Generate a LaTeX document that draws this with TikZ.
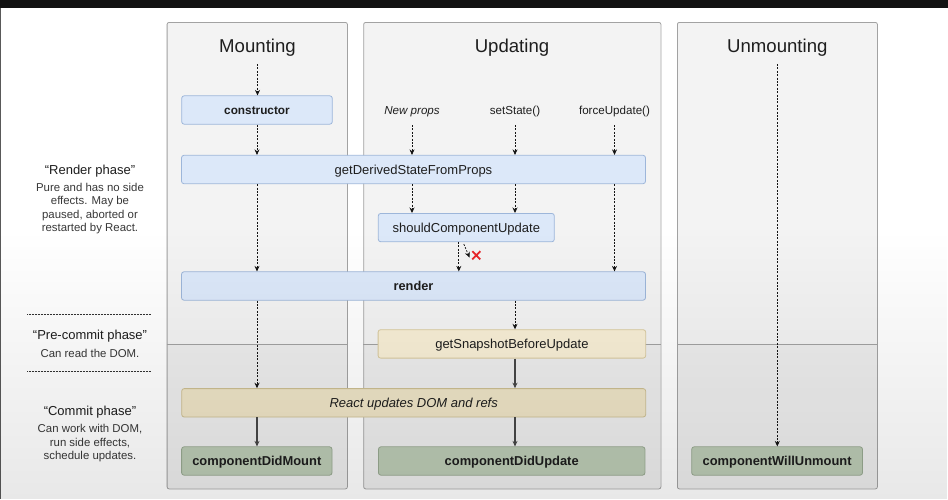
\documentclass[tikz,border=0pt]{standalone}
\usepackage{fontspec}
\setmainfont{Liberation Sans}
\usetikzlibrary{arrows.meta,fadings}

\definecolor{panelfill}{HTML}{F3F3F3}
\definecolor{panellow}{HTML}{EDEDED}
\definecolor{panelline}{HTML}{A2A2A2}
\definecolor{bluefill}{HTML}{DCE8F9}
\definecolor{blueline}{HTML}{9DB6DA}
\definecolor{beigefill}{HTML}{F8EFD6}
\definecolor{beigeline}{HTML}{D9CA9E}
\definecolor{tanfill}{HTML}{EEE4C6}
\definecolor{tanline}{HTML}{CDBF92}
\definecolor{greenfill}{HTML}{BCCBB5}
\definecolor{greenline}{HTML}{98A991}
\definecolor{txt}{HTML}{1E1E1E}
\definecolor{xred}{HTML}{E8262A}

\newcommand{\lcpanel}[3]{%
  \fill[panelfill,rounded corners=2pt] (#1,22) rectangle (#2,488.5);
  \begin{scope}
    \clip[rounded corners=2pt] (#1,22) rectangle (#2,488.5);
    \fill[panellow] (#1,344.3) rectangle (#2,488.5);
  \end{scope}
  \draw[panelline,line width=0.6pt] (#1,344.3) -- (#2,344.3);
  \node[draw=panelline,line width=0.8pt,rounded corners=2pt,inner sep=0pt,
        minimum width=#2pt-#1pt,minimum height=466.5pt,anchor=north west] (#3) at (#1,22) {};
}

\begin{document}
\begin{tikzpicture}[x=1pt,y=-1pt,
  box/.style={draw, rounded corners=2.5pt, line width=0.8pt, inner sep=0pt,
    minimum height=28.4pt, text=txt, text height=9.2pt, text depth=0pt,
    font=\fontsize{13}{15}\selectfont},
  bluebox/.style={box, fill=bluefill, draw=blueline},
  beigebox/.style={box, fill=beigefill, draw=beigeline},
  tanbox/.style={box, fill=tanfill, draw=tanline},
  greenbox/.style={box, fill=greenfill, draw=greenline, font=\fontsize{12.9}{15}\selectfont\bfseries},
  title/.style={text=txt, inner sep=0pt, anchor=base, font=\fontsize{18.6}{22}\selectfont},
  trig/.style={text=txt, inner sep=0pt, anchor=base, font=\fontsize{11.6}{14}\selectfont},
  phase/.style={text=txt, inner sep=0pt, anchor=base, font=\fontsize{13}{15}\selectfont},
  phasedesc/.style={text=black!78, inner sep=0pt, anchor=base, font=\fontsize{11.4}{13.4}\selectfont},
  darr/.style={-{Stealth[length=5.5pt,width=5pt]}, line width=0.7pt, dash pattern=on 2pt off 1.4pt, black!92},
  sarr/.style={-{Stealth[length=5.5pt,width=5pt]}, line width=1.1pt, black!72},
  sep/.style={line width=0.9pt, dash pattern=on 0.8pt off 0.7pt, black!80}
]
\useasboundingbox (0,0) rectangle (948,499);
\fill[white] (0,0) rectangle (948,499);
\fill[black!93] (0,0) rectangle (948,8);
\draw[black!65,line width=1pt] (0.5,8) -- (0.5,499);

% panels
\lcpanel{166.7}{347}{mountp}
\lcpanel{363.3}{660.5}{updatep}
\lcpanel{677}{877}{unmountp}

% titles
\node[title] (mtitle) at (257.5,52.6) {Mounting};
\node[title] (utitle) at (512,52.6) {Updating};
\node[title] (untitle) at (777.3,52.6) {Unmounting};

% trigger labels
\node[trig,font=\fontsize{11.6}{14}\selectfont\itshape] (newprops) at (412,114.8) {New props};
\node[trig] (setstate) at (515,114.8) {setState()};
\node[trig] (forceupd) at (614.5,114.8) {forceUpdate()};

% boxes
\node[bluebox, minimum width=150.6pt, font=\fontsize{11.8}{15}\selectfont\bfseries] (ctor) at (257,110) {constructor};
\node[bluebox, minimum width=464pt] (gdsfp) at (413.5,169.5) {getDerivedStateFromProps};
\node[bluebox, minimum width=176pt] (scu) at (466.3,227.6) {shouldComponentUpdate};
\node[bluebox, minimum width=464pt, font=\fontsize{12.8}{15}\selectfont\bfseries] (render) at (413.5,286) {render};
\node[beigebox, minimum width=267.6pt] (gsbu) at (511.9,343.9) {getSnapshotBeforeUpdate};
\node[tanbox, minimum width=464pt, font=\fontsize{13}{15}\selectfont\itshape] (rudom) at (413.7,402.8) {React updates DOM and refs};
\node[greenbox, minimum width=150.4pt] (cdm) at (256.8,461) {componentDidMount};
\node[greenbox, minimum width=266.5pt] (cdu) at (511.7,461) {componentDidUpdate};
\node[greenbox, minimum width=170.8pt] (cwu) at (777.1,461) {componentWillUnmount};

% arrow start points
\coordinate (mstart) at (257.5,64);
\coordinate (ustart) at (777.3,64);
\coordinate (npstart) at (412,125);
\coordinate (ssstart) at (515,125);
\coordinate (fustart) at (614.5,125);
\coordinate (scuout) at (458.8,241.8);
\coordinate (skipstart) at (463.8,244);
\coordinate (skipend) at (469.5,257.5);

% mounting column
\draw[darr] (mstart) -- (mstart |- ctor.north);
\draw[darr] (ctor.south) -- (ctor.south |- gdsfp.north);
\draw[darr] (ctor.south |- gdsfp.south) -- (ctor.south |- render.north);
\draw[darr] (ctor.south |- render.south) -- (ctor.south |- rudom.north);
\draw[sarr] (ctor.south |- rudom.south) -- (ctor.south |- cdm.north);

% updating column
\draw[darr] (npstart) -- (npstart |- gdsfp.north);
\draw[darr] (ssstart) -- (ssstart |- gdsfp.north);
\draw[darr] (fustart) -- (fustart |- gdsfp.north);
\draw[darr] (npstart |- gdsfp.south) -- (npstart |- scu.north);
\draw[darr] (ssstart |- gdsfp.south) -- (ssstart |- scu.north);
\draw[darr] (fustart |- gdsfp.south) -- (fustart |- render.north);
\draw[darr] (scuout) -- (scuout |- render.north);
\draw[darr] (skipstart) -- (skipend);
\draw[xred, line width=1.8pt] (472.3,251.2) -- (480.3,259.4) (480.3,251.2) -- (472.3,259.4);
\draw[darr] (ssstart |- render.south) -- (ssstart |- gsbu.north);
\draw[sarr] (ssstart |- gsbu.south) -- (ssstart |- rudom.north);
\draw[sarr] (ssstart |- rudom.south) -- (ssstart |- cdu.north);

% unmounting column
\draw[darr] (ustart) -- (ustart |- cwu.north);

% phase labels
\node[phase] (rphase) at (90,174) {“Render phase”};
\node[phasedesc] (rdesc1) at (90,191.4) {Pure and has no side};
\node[phasedesc] (rdesc2) at (90,204.8) {effects. May be};
\node[phasedesc] (rdesc3) at (90,218.1) {paused, aborted or};
\node[phasedesc] (rdesc4) at (90,231.4) {restarted by React.};
\coordinate (sepA1) at (27,314.3);
\coordinate (sepA2) at (151,314.3);
\draw[sep] (sepA1) -- (sepA2);
\node[phase] (pphase) at (90,339.8) {“Pre-commit phase”};
\node[phasedesc] (pdesc) at (90,357.5) {Can read the DOM.};
\coordinate (sepB1) at (27,371.8);
\coordinate (sepB2) at (151,371.8);
\draw[sep] (sepB1) -- (sepB2);
\node[phase] (cphase) at (90,415.2) {“Commit phase”};
\node[phasedesc] (cdesc1) at (90,432.4) {Can work with DOM,};
\node[phasedesc] (cdesc2) at (90,446.2) {run side effects,};
\node[phasedesc] (cdesc3) at (90,459.8) {schedule updates.};

% vignette
\fill[black, opacity=0.09, path fading=north] (0,230) rectangle (948,499);
\end{tikzpicture}
\end{document}
